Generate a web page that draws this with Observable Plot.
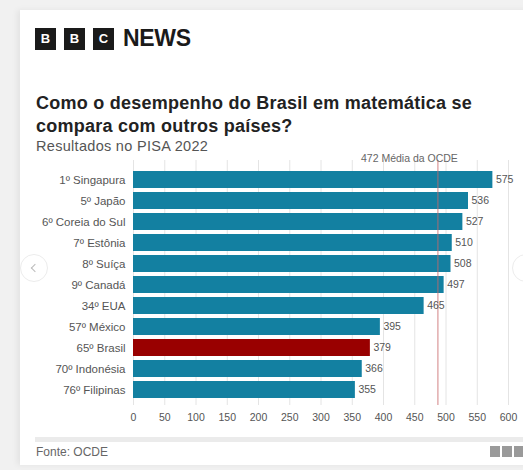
<!DOCTYPE html>
<html>
<head>
<meta charset="utf-8">
<script src="https://cdn.jsdelivr.net/npm/d3@7"></script>
<script src="https://cdn.jsdelivr.net/npm/@observablehq/plot@0.6"></script>
<style>
  html, body { margin: 0; padding: 0; }
  body { width: 523px; height: 470px; background: #f1f1f1; position: relative; overflow: hidden;
         font-family: "Liberation Sans", Arial, Helvetica, sans-serif; }
  .card { position: absolute; left: 20px; top: 10px; width: 520px; height: 455px; background: #fff;
          box-shadow: -3px 0 6px rgba(0,0,0,0.06); }
  .logo { position: absolute; top: 25px; left: 35px; display: flex; align-items: center; }
  .logo .b { width: 21px; height: 22px; background: #1a1a1a; color: #fff; font-weight: bold; font-size: 13px;
             display: flex; align-items: center; justify-content: center; margin-right: 8px; }
  .logo .news { font-weight: bold; font-size: 23px; color: #1a1a1a; letter-spacing: -0.3px; margin-left: 1px; }
  .title { position: absolute; left: 36px; top: 92px; width: 445px; font-weight: bold; font-size: 18px;
           letter-spacing: 0.25px; line-height: 23px; color: #222; }
  .subtitle { position: absolute; left: 36px; top: 138px; font-size: 14.5px; letter-spacing: 0.3px; color: #555; }
  #chart { position: absolute; left: 0; top: 140px; }
  .footline { position: absolute; left: 35px; top: 437px; width: 500px; height: 5px; background: #ebebeb; }
  .source { position: absolute; left: 36px; top: 445px; font-size: 12px; color: #666; }
  .minilogo { position: absolute; left: 490px; top: 446px; display: flex; }
  .minilogo span { width: 10px; height: 11px; background: #9a9a9a; margin-right: 2px; }
  .arrow { position: absolute; width: 26px; height: 26px; border-radius: 50%; border: 1px solid #ececec;
           background: #fff; }
  .arrow i { position: absolute; top: 10px; width: 5px; height: 5px; border-left: 1.5px solid #bbb; border-bottom: 1.5px solid #bbb; }
</style>
</head>
<body>
<div class="card"></div>
<div class="logo"><div class="b">B</div><div class="b">B</div><div class="b">C</div><div class="news">NEWS</div></div>
<div class="title">Como o desempenho do Brasil em matemática se compara com outros países?</div>
<div class="subtitle">Resultados no PISA 2022</div>
<div id="chart"></div>
<div class="footline"></div>
<div class="source">Fonte: OCDE</div>
<div class="minilogo"><span></span><span></span><span></span></div>
<div class="arrow" style="left:20px; top:254px;"><i style="left:11px; transform: rotate(45deg);"></i></div>
<div class="arrow" style="left:512px; top:254px;"><i style="left:8px; transform: rotate(-135deg);"></i></div>
<script>
// Data
const countries = ["1º Singapura", "5º Japão", "6º Coreia do Sul", "7º Estônia", "8º Suíça", "9º Canadá",
                   "34º EUA", "57º México", "65º Brasil", "70º Indonésia", "76º Filipinas"];
const scores = [575, 536, 527, 510, 508, 497, 465, 395, 379, 366, 355];
const highlighted = "65º Brasil";
const xTicks = [0, 50, 100, 150, 200, 250, 300, 350, 400, 450, 500, 550, 600];
const oecdLabel = "472 Média da OCDE";
const oecdLineAt = 487; // where the reference draws the OECD line on the axis

const data = countries.map((c, i) => ({country: c, score: scores[i]}));

const chart = Plot.plot({
  width: 523,
  height: 290,
  marginLeft: 133,
  marginRight: 15,
  marginTop: 26,
  marginBottom: 28,
  style: {fontFamily: "'Liberation Sans', Arial, sans-serif", fontSize: "10.5px", color: "#555", background: "transparent"},
  x: {domain: [0, 600], label: null},
  y: {domain: countries, padding: 0.2, label: null},
  marks: [
    Plot.gridX(xTicks, {stroke: "#e4e4e4", strokeOpacity: 1, insetTop: -6, insetBottom: -3}),
    Plot.barX(data, {x: "score", y: "country", fill: d => d.country === highlighted ? "#990000" : "#1380a1"}),
    Plot.ruleX([oecdLineAt], {stroke: "#c9666a", strokeOpacity: 0.55, strokeWidth: 1.5, insetTop: -6, insetBottom: -3}),
    Plot.text(data, {x: "score", y: "country", text: d => String(d.score), textAnchor: "start", dx: 3, fill: "#555"}),
    Plot.text([oecdLineAt], {x: d => d, frameAnchor: "top", dy: -12, dx: 20, textAnchor: "end",
                             text: () => oecdLabel, fill: "#666", fontSize: 10.5}),
    Plot.axisX(xTicks, {tickSize: 0, tickPadding: 11, label: null, fill: "#555", fontSize: 10.5}),
    Plot.axisY({tickSize: 0, tickPadding: 8, label: null, fill: "#555", fontSize: 11.5})
  ]
});
document.getElementById("chart").appendChild(chart);
</script>
</body>
</html>
